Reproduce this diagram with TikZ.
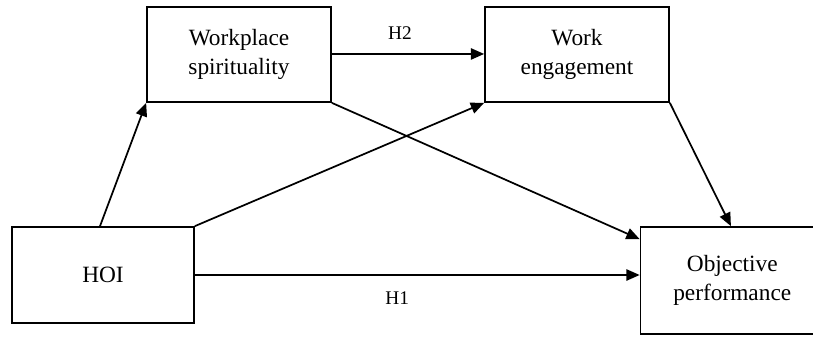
\documentclass[tikz,border=0pt]{standalone}
\usepackage{fontspec}
\setmainfont{Liberation Serif}
\usetikzlibrary{arrows.meta}
\begin{document}
\begin{tikzpicture}[x=0.75pt,y=-0.75pt,
  boxnode/.style={draw,line width=1.3pt,align=center,inner sep=0pt,
    font=\fontsize{17.5}{21.8}\selectfont},
  conn/.style={line width=1.3pt,-{Triangle[length=10pt,width=8.5pt]}},
  lbl/.style={font=\fontsize{14.5}{17}\selectfont,inner sep=0pt}]
\useasboundingbox (0,0) rectangle (813,336);
\node[boxnode,minimum width=138pt,minimum height=71.25pt] (ws) at (239,54.5) {Workplace\\spirituality};
\node[boxnode,minimum width=138pt,minimum height=71.25pt] (we) at (577,54.5) {Work\\engagement};
\node[boxnode,minimum width=136.5pt,minimum height=72pt] (hoi) at (103,275) {HOI};
\node[boxnode,minimum width=137.6pt,minimum height=80.25pt] (op) at (732.25,280.5) {Objective\\performance};
\draw[conn] ([xshift=-2.25pt]hoi.north) -- (ws.south west);
\draw[conn] (hoi.north east) -- (we.south west);
\draw[conn] (hoi.east) -- node[lbl,xshift=-15pt,yshift=-17pt]{H1} (hoi.east -| op.west);
\draw[conn] ([yshift=0.4pt]ws.east) -- node[lbl,xshift=-6pt,yshift=15.75pt]{H2} ([yshift=0.4pt]we.west);
\draw[conn] (ws.south east) -- ([yshift=-9.75pt]op.north west);
\draw[conn] (we.south east) -- ([xshift=-1pt]op.north);
\end{tikzpicture}
\end{document}
